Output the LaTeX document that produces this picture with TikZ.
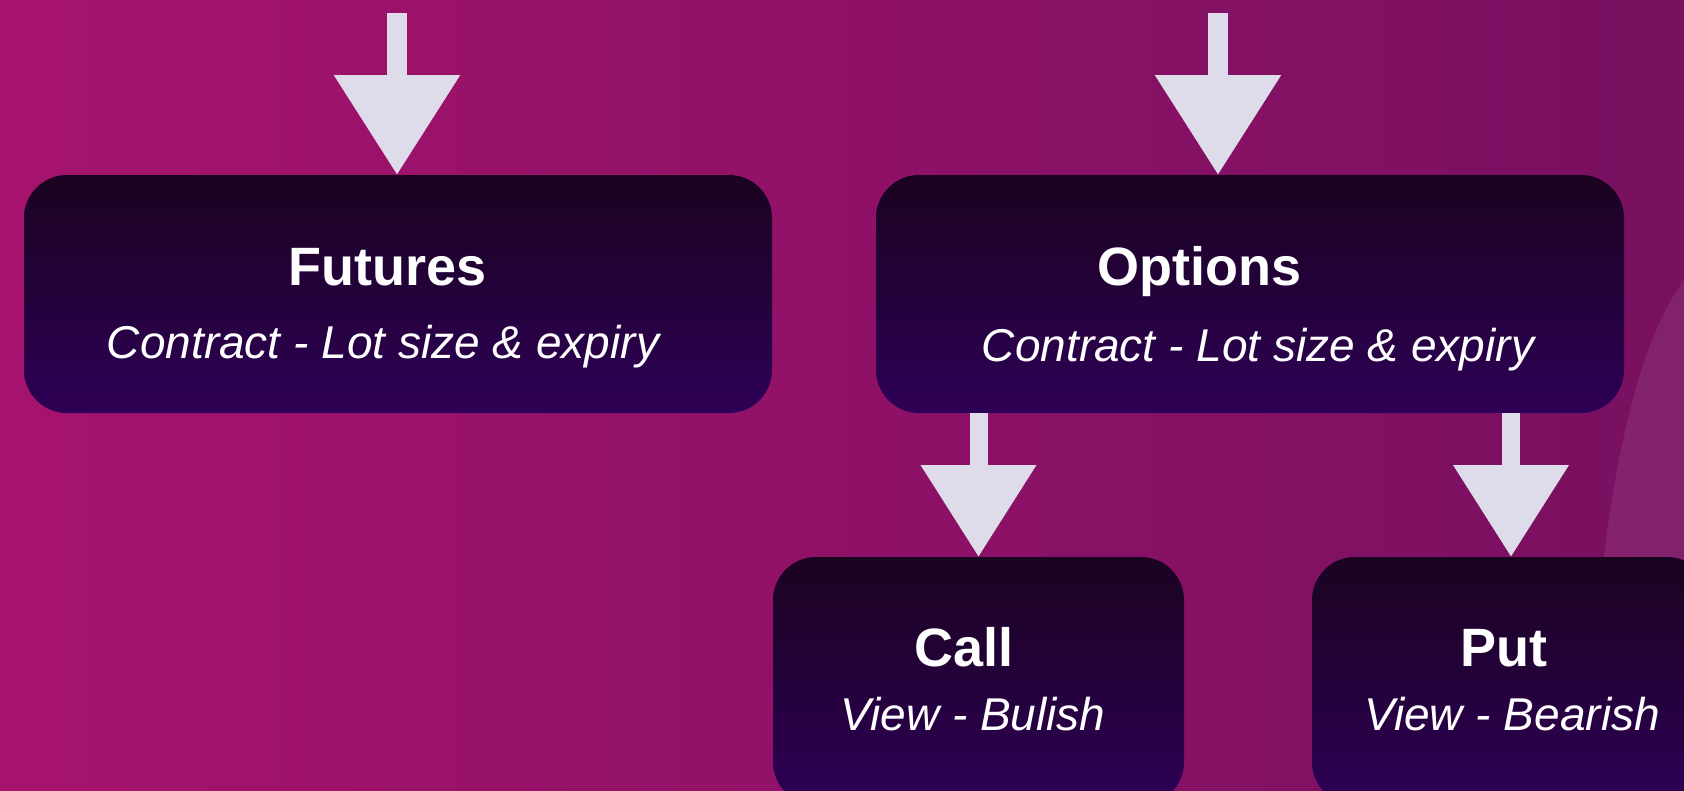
\documentclass[tikz,border=0pt]{standalone}
\usepackage{fontspec}
\setmainfont{Liberation Sans}
\usetikzlibrary{arrows.meta,positioning}
\definecolor{bgleft}{RGB}{166,19,110}
\definecolor{bgright}{RGB}{120,16,96}
\definecolor{boxtop}{RGB}{26,3,32}
\definecolor{boxbottom}{RGB}{46,0,86}
\definecolor{arrowcol}{RGB}{222,220,234}

\begin{document}
\begin{tikzpicture}[x=1pt,y=-1pt]
\tikzset{
block/.style={rectangle, rounded corners=43pt, top color=boxtop, bottom color=boxbottom, inner sep=0pt, outer sep=0pt},
mytitle/.style={text=white, font=\fontsize{54}{60}\selectfont\bfseries, inner sep=0pt, anchor=base},
mysub/.style={text=white, font=\fontsize{46}{52}\selectfont\itshape, inner sep=0pt, anchor=base},
myarrow/.style={-{Triangle[width=121pt,length=100pt]}, draw=arrowcol, line width=20pt},
smallarrow/.style={-{Triangle[width=111pt,length=92pt]}, draw=arrowcol, line width=18pt},
}
\useasboundingbox (0,0) rectangle (1684,790);
\clip (0,0) rectangle (1684,790);
% background
\fill[left color=bgleft, right color=bgright] (0,0) rectangle (1684,790);
\fill[white, opacity=0.08] (1684,280) .. controls (1640,340) and (1600,470) .. (1585,790) -- (1684,790) -- cycle;

\node[block, minimum width=748pt, minimum height=238pt] (futures) at (398,294) {};
\node[block, minimum width=748pt, minimum height=238pt] (options) at (1250,294) {};
\node[block, minimum width=411pt, minimum height=248pt] (call) at (978.5,681) {};
\node[block, minimum width=398pt, minimum height=248pt] (put) at (1511,681) {};

\node[mytitle] (futtitle) at (388,285) {Futures};
\node[mysub] (futsub) at (383,358) {Contract - Lot size \& expiry};
\node[mytitle] (opttitle) at (1199,285) {Options};
\node[mysub] (optsub) at (1258,361) {Contract - Lot size \& expiry};
\node[mytitle] (calltitle) at (964,666) {Call};
\node[mysub] (callsub) at (973,730) {View - Bulish};
\node[mytitle] (puttitle) at (1504,666) {Put};
\node[mysub] (putsub) at (1512,730) {View - Bearish};

\coordinate (futsrc) at (397,13);
\coordinate (optsrc) at (1218,13);
\draw[myarrow] (futsrc) -- (futsrc |- futures.north);
\draw[myarrow] (optsrc) -- (optsrc |- options.north);
\draw[smallarrow] (options.south -| call.north) -- (call.north);
\draw[smallarrow] (options.south -| put.north) -- (put.north);
\end{tikzpicture}
\end{document}
